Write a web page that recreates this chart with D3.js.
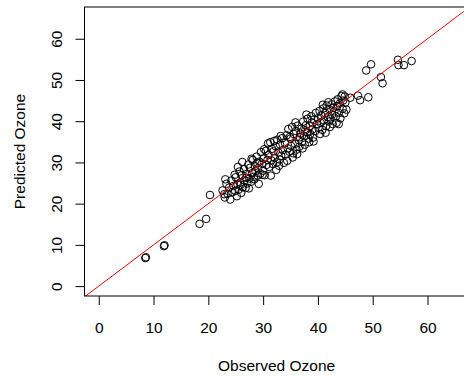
<!DOCTYPE html>
<meta charset="utf-8">
<html>
<head>
<script src="https://d3js.org/d3.v7.min.js"></script>
<style>
  body { margin: 0; background: white; }
  text { font-family: "Liberation Sans", Arial, sans-serif; font-size: 15.5px; fill: black; }
</style>
</head>
<body>
<svg id="chart"></svg>
<script>
// observed vs predicted ozone
var observed = [
  8.5, 8.6, 11.9, 12.0, 18.4, 19.6, 20.3,
  22.6, 23.0, 23.3, 23.5, 23.8, 24.0, 24.2, 24.4, 24.6, 24.9, 23.1, 22.9,
  25.0, 25.2, 25.3, 25.5, 25.7, 25.8, 26.0, 26.1, 26.3, 26.5, 26.6, 26.8, 27.0, 27.1, 27.3, 27.5, 27.6, 27.8, 26.2, 25.4, 24.8, 26.9, 25.9, 27.4,
  28.0, 28.1, 28.3, 28.5, 28.6, 28.8, 29.0, 29.1, 29.3, 29.5, 29.6, 29.8, 30.0, 30.1, 30.3, 30.5, 30.6, 30.8, 28.4, 29.2, 29.9, 28.9, 30.2, 27.9,
  31.0, 31.1, 31.3, 31.5, 31.6, 31.8, 32.0, 32.1, 32.3, 32.5, 32.6, 32.8, 33.0, 33.1, 33.3, 33.5, 33.6, 33.8, 31.4, 32.4, 32.9, 31.9, 33.2, 30.9,
  34.0, 34.1, 34.3, 34.5, 34.6, 34.8, 35.0, 35.1, 35.3, 35.5, 35.6, 35.8, 36.0, 36.1, 36.3, 36.5, 36.6, 36.8, 34.4, 35.4, 36.2, 34.9, 35.9, 36.7,
  37.0, 37.1, 37.3, 37.5, 37.6, 37.8, 38.0, 38.1, 38.3, 38.5, 38.6, 38.8, 39.0, 39.1, 39.3, 39.5, 39.6, 39.8, 37.2, 38.4, 39.2, 37.9, 38.9, 37.7,
  40.0, 40.1, 40.3, 40.5, 40.6, 40.8, 41.0, 41.1, 41.3, 41.5, 41.6, 41.8, 42.0, 42.1, 42.3, 42.5, 42.6, 42.8, 40.4, 41.4, 42.2, 40.9, 41.9, 42.7,
  43.0, 43.1, 43.3, 43.5, 43.6, 43.8, 44.0, 44.1, 44.3, 44.5, 44.6, 44.8, 45.0, 45.2, 43.4, 44.9,
  43.8, 44.5, 45.9, 47.3, 47.7, 49.2, 51.5, 51.8, 48.8, 49.7, 54.6, 54.7, 55.7, 57.1
];
var predicted = [
  6.8, 7.0, 9.7, 9.9, 15.1, 16.3, 22.1,
  23.2, 21.5, 24.8, 22.4, 23.9, 21.0, 25.6, 22.8, 24.3, 23.1, 25.9, 22.3,
  26.4, 21.8, 24.7, 23.4, 27.8, 25.1, 22.6, 26.9, 24.0, 28.4, 25.7, 23.8, 27.2, 24.9, 29.5, 26.1, 28.7, 25.3, 30.1, 28.9, 27.0, 26.3, 24.6, 23.7,
  27.4, 30.6, 26.5, 29.1, 27.9, 31.4, 26.8, 28.6, 30.2, 27.3, 32.5, 29.7, 28.0, 31.0, 26.9, 32.8, 29.4, 30.6, 25.9, 24.8, 27.0, 29.9, 33.2, 30.9,
  31.8, 28.9, 34.9, 30.5, 33.3, 29.6, 35.2, 31.1, 33.9, 30.0, 35.5, 32.4, 30.7, 34.3, 31.6, 35.9, 33.0, 29.9, 26.8, 28.2, 29.2, 32.7, 36.4, 34.6,
  34.7, 31.9, 36.6, 33.4, 38.1, 32.6, 35.8, 34.0, 38.6, 32.2, 36.9, 34.5, 37.6, 33.1, 38.9, 35.4, 33.8, 37.0, 30.4, 31.2, 32.0, 36.2, 39.7, 36.1,
  38.2, 35.0, 39.9, 36.4, 34.3, 39.0, 37.3, 40.6, 35.8, 38.8, 36.9, 41.2, 38.0, 36.0, 40.4, 37.6, 42.0, 39.3, 33.4, 34.9, 35.1, 41.6, 39.7, 37.8,
  40.7, 38.4, 42.5, 39.6, 41.4, 37.9, 43.1, 40.2, 42.0, 38.8, 43.8, 41.0, 39.9, 42.9, 40.6, 44.1, 41.6, 43.3, 36.9, 37.2, 38.6, 44.0, 44.6, 39.3,
  42.4, 44.8, 41.2, 43.6, 45.3, 42.0, 44.3, 40.7, 46.1, 43.0, 45.0, 41.9, 44.5, 42.8, 39.6, 46.0,
  39.3, 46.5, 45.7, 46.2, 45.1, 45.8, 50.7, 49.2, 52.3, 53.8, 54.9, 53.6, 53.6, 54.6
];
var xTicks = [0, 10, 20, 30, 40, 50, 60];
var yTicks = [0, 10, 20, 30, 40, 50, 60];

var width = 464, height = 376;
var svg = d3.select("#chart").attr("width", width).attr("height", height);

// plot region (R style, axis extended past data)
var x = d3.scaleLinear().domain([-2.6, 67.5]).range([84.5, 468.6]);
var y = d3.scaleLinear().domain([-2.4, 67.7]).range([296, 7]);

svg.append("clipPath").attr("id", "clip")
  .append("rect")
    .attr("x", x.range()[0]).attr("y", y.range()[1])
    .attr("width", x.range()[1] - x.range()[0])
    .attr("height", y.range()[0] - y.range()[1]);

var data = observed.map(function(d, i) { return {obs: d, pred: predicted[i]}; });

svg.append("g").attr("clip-path", "url(#clip)")
  .selectAll("circle")
  .data(data)
  .enter().append("circle")
    .attr("cx", function(d) { return x(d.obs); })
    .attr("cy", function(d) { return y(d.pred); })
    .attr("r", 3.8)
    .style("fill", "none")
    .style("stroke", "black")
    .style("stroke-width", 1);

// y = x reference line
svg.append("line")
  .attr("clip-path", "url(#clip)")
  .attr("x1", x(-5)).attr("y1", y(-5))
  .attr("x2", x(75)).attr("y2", y(75))
  .style("stroke", "red")
  .style("stroke-width", 1);

// box
svg.append("rect")
  .attr("x", x.range()[0]).attr("y", y.range()[1])
  .attr("width", x.range()[1] - x.range()[0])
  .attr("height", y.range()[0] - y.range()[1])
  .style("fill", "none").style("stroke", "black").style("stroke-width", 1);

// x axis
var xAxis = svg.append("g")
  .attr("transform", "translate(0," + y.range()[0] + ")")
  .call(d3.axisBottom(x).tickValues(xTicks).tickSize(9).tickPadding(17).tickFormat(d3.format("d")));
xAxis.select(".domain").remove();
xAxis.selectAll("line").style("stroke", "black");
xAxis.selectAll("text").style("font-size", "15.5px").style("font-family", "Liberation Sans, Arial, sans-serif");

// y axis, labels rotated like base R
var yAxis = svg.append("g")
  .attr("transform", "translate(" + x.range()[0] + ",0)")
  .call(d3.axisLeft(y).tickValues(yTicks).tickSize(9).tickFormat(d3.format("d")));
yAxis.select(".domain").remove();
yAxis.selectAll("line").style("stroke", "black");
yAxis.selectAll("text")
  .attr("x", null).attr("dy", null)
  .attr("text-anchor", "middle")
  .attr("transform", "translate(-22.5,0)rotate(-90)")
  .style("font-size", "15.5px").style("font-family", "Liberation Sans, Arial, sans-serif");

// axis titles
svg.append("text")
  .attr("x", (x.range()[0] + x.range()[1]) / 2)
  .attr("y", 370.5)
  .attr("text-anchor", "middle")
  .text("Observed Ozone");

svg.append("text")
  .attr("transform", "translate(24.5," + (y.range()[0] + y.range()[1]) / 2 + ")rotate(-90)")
  .attr("text-anchor", "middle")
  .text("Predicted Ozone");
</script>
</body>
</html>
